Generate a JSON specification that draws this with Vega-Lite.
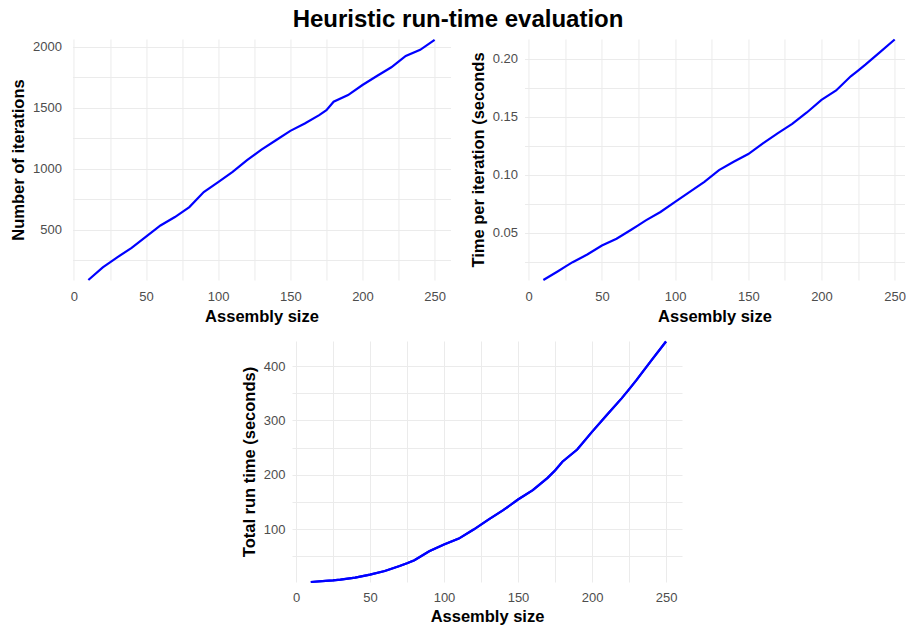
{
  "$schema": "https://vega.github.io/schema/vega-lite/v6.json",
  "padding": {"left": 10, "top": 8, "right": 0, "bottom": 0},
  "background": "white",
  "title": {"text": "Heuristic run-time evaluation", "font": "Liberation Sans", "fontSize": 24, "fontWeight": "bold", "color": "black", "anchor": "middle", "offset": 3},
  "datasets": {
    "runs": [
      {"size": 10, "iterations": 86, "time_per_iter": 0.0092, "total_time": 3},
      {"size": 20, "iterations": 190, "time_per_iter": 0.0168, "total_time": 5},
      {"size": 25, "iterations": 231, "time_per_iter": 0.0207, "total_time": 6},
      {"size": 30, "iterations": 272, "time_per_iter": 0.0246, "total_time": 7.4},
      {"size": 40, "iterations": 349, "time_per_iter": 0.0312, "total_time": 11},
      {"size": 50, "iterations": 442, "time_per_iter": 0.039, "total_time": 16.6},
      {"size": 60, "iterations": 533, "time_per_iter": 0.0448, "total_time": 23.3},
      {"size": 70, "iterations": 602, "time_per_iter": 0.0526, "total_time": 32.5},
      {"size": 75, "iterations": 643, "time_per_iter": 0.0566, "total_time": 37.5},
      {"size": 80, "iterations": 684, "time_per_iter": 0.0607, "total_time": 43},
      {"size": 90, "iterations": 807, "time_per_iter": 0.0679, "total_time": 59.5},
      {"size": 100, "iterations": 889, "time_per_iter": 0.0766, "total_time": 71.8},
      {"size": 110, "iterations": 972, "time_per_iter": 0.0853, "total_time": 82.8},
      {"size": 120, "iterations": 1068, "time_per_iter": 0.0939, "total_time": 99.4},
      {"size": 130, "iterations": 1155, "time_per_iter": 0.104, "total_time": 117.8},
      {"size": 140, "iterations": 1232, "time_per_iter": 0.1113, "total_time": 135},
      {"size": 150, "iterations": 1309, "time_per_iter": 0.1179, "total_time": 154.6},
      {"size": 160, "iterations": 1369, "time_per_iter": 0.1272, "total_time": 171.8},
      {"size": 170, "iterations": 1438, "time_per_iter": 0.1358, "total_time": 194.5},
      {"size": 175, "iterations": 1479, "time_per_iter": 0.1398, "total_time": 208},
      {"size": 180, "iterations": 1548, "time_per_iter": 0.1439, "total_time": 224},
      {"size": 190, "iterations": 1602, "time_per_iter": 0.1538, "total_time": 246.6},
      {"size": 200, "iterations": 1685, "time_per_iter": 0.1647, "total_time": 279},
      {"size": 210, "iterations": 1759, "time_per_iter": 0.1728, "total_time": 310},
      {"size": 220, "iterations": 1830, "time_per_iter": 0.185, "total_time": 340.5},
      {"size": 225, "iterations": 1877, "time_per_iter": 0.19, "total_time": 357},
      {"size": 230, "iterations": 1923, "time_per_iter": 0.1951, "total_time": 374},
      {"size": 240, "iterations": 1973, "time_per_iter": 0.2058, "total_time": 410},
      {"size": 250, "iterations": 2055, "time_per_iter": 0.2168, "total_time": 445}
    ]
  },
  "config": {
    "view": {"stroke": null},
    "font": "Liberation Sans",
    "axis": {
      "domain": false,
      "ticks": false,
      "grid": true,
      "gridColor": "#EBEBEB",
      "gridWidth": 1,
      "labelFont": "Liberation Sans",
      "labelFontSize": 13,
      "labelColor": "#4D4D4D",
      "titleFont": "Liberation Sans",
      "titleFontSize": 16.5,
      "titleFontWeight": "bold",
      "titleColor": "black"
    },
    "axisX": {"labelPadding": 10, "titlePadding": 5},
    "axisY": {"labelPadding": 7, "titlePadding": 6},
    "line": {"color": "#0000FF", "strokeWidth": 2.2, "clip": false}
  },
  "spacing": 12,
  "center": true,
  "vconcat": [
    {
      "spacing": 19,
      "hconcat": [
        {
          "width": 378,
          "height": 241,
          "data": {"name": "runs"},
          "mark": {"type": "line"},
          "encoding": {
            "x": {"field": "size", "type": "quantitative", "title": "Assembly size",
              "scale": {"domain": [-1, 261], "nice": false, "zero": false},
              "axis": {"values": [0, 25, 50, 75, 100, 125, 150, 175, 200, 225, 250], "labelExpr": "datum.value % 50 == 0 ? datum.label : ''"}},
            "y": {"field": "iterations", "type": "quantitative", "title": "Number of iterations",
              "scale": {"domain": [86, 2062], "nice": false, "zero": false},
              "axis": {"labelPadding": 11, "values": [250, 500, 750, 1000, 1250, 1500, 1750, 2000], "format": "d", "labelExpr": "datum.value % 500 == 0 ? datum.label : ''"}}
          }
        },
        {
          "width": 380,
          "height": 241,
          "data": {"name": "runs"},
          "mark": {"type": "line"},
          "encoding": {
            "x": {"field": "size", "type": "quantitative", "title": "Assembly size",
              "scale": {"domain": [-2.9, 256.7], "nice": false, "zero": false},
              "axis": {"values": [0, 25, 50, 75, 100, 125, 150, 175, 200, 225, 250], "labelExpr": "datum.value % 50 == 0 ? datum.label : ''"}},
            "y": {"field": "time_per_iter", "type": "quantitative", "title": "Time per iteration (seconds",
              "scale": {"domain": [0.0092, 0.2172], "nice": false, "zero": false},
              "axis": {"values": [0.025, 0.05, 0.075, 0.1, 0.125, 0.15, 0.175, 0.2], "format": ".2f", "labelExpr": "round(datum.value * 1000) % 50 == 0 ? datum.label : ''"}}
          }
        }
      ]
    },
    {
      "width": 390,
      "height": 241,
      "data": {"name": "runs"},
      "encoding": {
        "x": {"field": "size", "type": "quantitative", "title": "Assembly size",
          "scale": {"domain": [-2.7, 260.8], "nice": false, "zero": false},
          "axis": {"labelPadding": 9, "titlePadding": 4, "values": [0, 25, 50, 75, 100, 125, 150, 175, 200, 225, 250], "labelExpr": "datum.value % 50 == 0 ? datum.label : ''"}}
      },
      "layer": [
        {
          "mark": {"type": "line"},
          "encoding": {
            "y": {"field": "total_time", "type": "quantitative", "title": "Total run time (seconds)",
              "scale": {"domain": [3, 446], "nice": false, "zero": false},
              "axis": {"labelPadding": 7, "titlePadding": 6, "values": [50, 100, 150, 200, 250, 300, 350, 400], "format": "d", "labelExpr": "datum.value % 100 == 0 ? datum.label : ''"}}
          }
        },
        {
          "mark": {"type": "line"},
          "encoding": {
            "y": {"field": "total_time", "type": "quantitative",
              "scale": {"domain": [3, 446], "nice": false, "zero": false},
              "axis": {"orient": "right", "grid": false, "title": null, "labelPadding": 4, "values": [400], "labelExpr": "''"}}
          }
        }
      ],
      "resolve": {"axis": {"y": "independent"}}
    }
  ]
}
